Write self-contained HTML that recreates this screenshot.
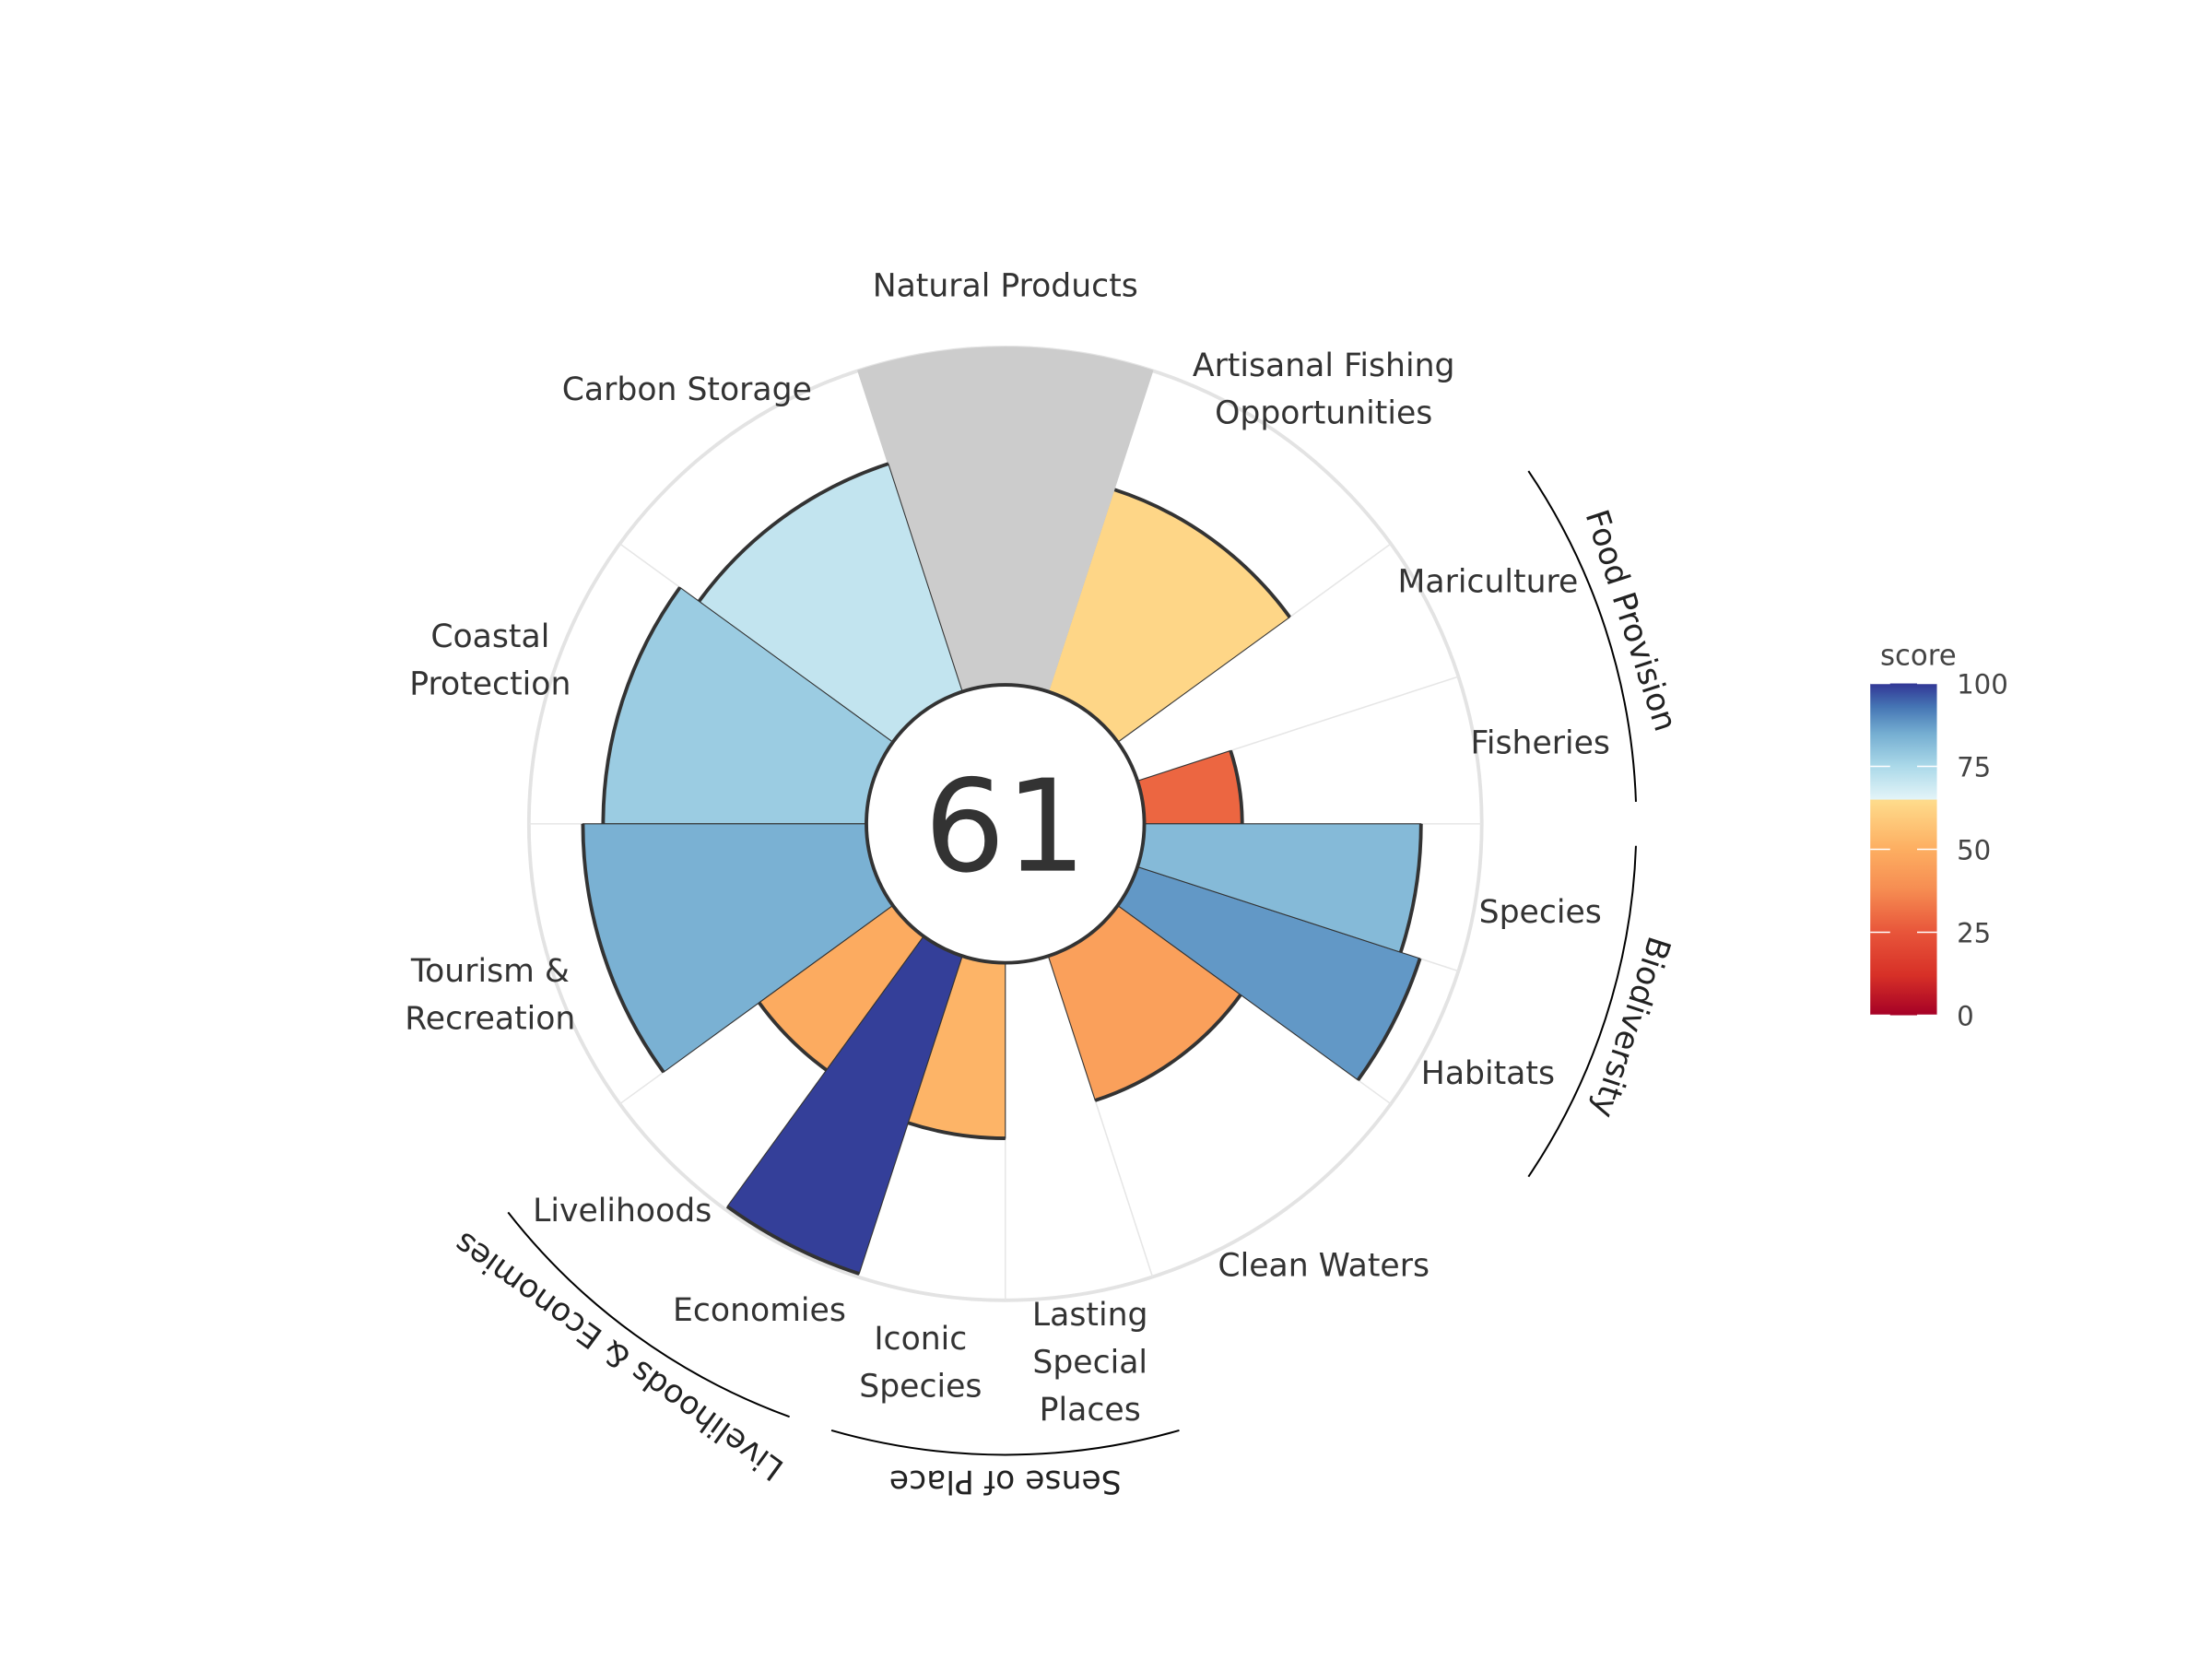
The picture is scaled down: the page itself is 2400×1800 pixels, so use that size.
<!DOCTYPE html>
<html><head><meta charset="utf-8"><style>
html,body{margin:0;padding:0;background:#fff;}
svg{display:block;font-family:"DejaVu Sans","Liberation Sans",sans-serif;}
</style></head><body>
<svg id="chart" width="2400" height="1800" viewBox="0 0 1560 1170" xmlns="http://www.w3.org/2000/svg">
<defs>
<linearGradient id="cbar" x1="0" y1="1" x2="0" y2="0">
<stop offset="0" stop-color="#a50026"/><stop offset="0.12" stop-color="#d73027"/><stop offset="0.25" stop-color="#e8553a"/><stop offset="0.38" stop-color="#f68d52"/><stop offset="0.5" stop-color="#fdae61"/><stop offset="0.649" stop-color="#fedc8c"/><stop offset="0.651" stop-color="#e3f4f8"/><stop offset="0.75" stop-color="#abd9e9"/><stop offset="0.85" stop-color="#74add1"/><stop offset="0.93" stop-color="#4575b4"/><stop offset="1" stop-color="#313695"/>
</linearGradient>
</defs>
<g id="grid"></g>
<g id="bars"></g>
<g id="labels"></g>
<g id="groups"></g>
<circle cx="709" cy="581" r="98" fill="#fff" stroke="#333" stroke-width="2.5"/>
<text x="709" y="614" font-size="90" text-anchor="middle" fill="#333">61</text>
<g>
<text x="1326" y="469" font-size="20" fill="#444">score</text>
<rect x="1319" y="482" width="47" height="234" fill="url(#cbar)"/>
<g id="cticks"></g>
</g>
</svg>
<script>
const goals=["Fisheries","Mariculture","Artisanal Fishing Opportunities","Natural Products","Carbon Storage","Coastal Protection","Tourism & Recreation","Livelihoods","Economies","Iconic Species","Lasting Special Places","Clean Waters","Habitats","Species"];
const scores=[29,0,63,null,71,78,84,49,99,52,0,45,88,82];
const weights=[0.5,0.5,1,1,1,1,1,0.5,0.5,0.5,0.5,1,0.5,0.5];
const labelLines=[["Fisheries"],["Mariculture"],["Artisanal Fishing","Opportunities"],["Natural Products"],["Carbon Storage"],["Coastal","Protection"],["Tourism &","Recreation"],["Livelihoods"],["Economies"],["Iconic","Species"],["Lasting","Special","Places"],["Clean Waters"],["Habitats"],["Species"]];
const groupNames=["Food Provision","Livelihoods & Economies","Sense of Place","Biodiversity"];
const groupMembers=[[0,1],[7,8],[9,10],[12,13]];
const legendTicks=[0,25,50,75,100];
const overall=61;

const NS="http://www.w3.org/2000/svg";
const cx=709,cy=581,r0=98,r1=336;
function rad(s){return r0+(r1-r0)*s/100;}
function pt(r,a){const t=a*Math.PI/180;return [cx+r*Math.cos(t),cy-r*Math.sin(t)];}
function mk(tag,attrs,parent){const e=document.createElementNS(NS,tag);for(const k in attrs)e.setAttribute(k,attrs[k]);parent.appendChild(e);return e;}
const stops=[[0,[165,0,38]],[12,[215,48,39]],[25,[232,85,58]],[38,[246,141,82]],[50,[253,174,97]],[64.9,[254,220,140]],[65.1,[227,244,248]],[75,[171,217,233]],[85,[116,173,209]],[93,[69,117,180]],[100,[49,54,149]]];
function color(v){for(let i=1;i<stops.length;i++){if(v<=stops[i][0]){const a=stops[i-1],b=stops[i],f=(v-a[0])/(b[0]-a[0]);return "rgb("+a[1].map((c,j)=>Math.round(c+(b[1][j]-c)*f)).join(",")+")";}}return "rgb(49,54,149)";}
const totalW=weights.reduce((a,b)=>a+b,0);
const starts=[];let acc=0;weights.forEach(w=>{starts.push(acc/totalW*360);acc+=w;});
const ends=starts.map((s,i)=>s+weights[i]/totalW*360);
const grid=document.getElementById('grid'),bars=document.getElementById('bars'),labels=document.getElementById('labels'),groups=document.getElementById('groups');
const oc=mk('circle',{cx:cx,cy:cy,r:r1,fill:'none',stroke:'#e3e3e3','stroke-width':2.5},grid);


starts.forEach(a=>{const p=pt(r0,a),q=pt(r1,a);const l=mk('line',{x1:p[0],y1:p[1],x2:q[0],y2:q[1],stroke:'#e6e6e6','stroke-width':1},grid);

});
goals.forEach((g,i)=>{
 const a1=starts[i],a2=ends[i];const na=scores[i]===null;
 const r=na?r1:rad(scores[i]);
 const p1=pt(r,a1),p2=pt(r,a2);
 const d=`M${cx},${cy}L${p1[0]},${p1[1]}A${r},${r} 0 0 0 ${p2[0]},${p2[1]}Z`;
 const s=mk('path',{d:d,fill:na?'#cccccc':color(scores[i]),stroke:na?'#cccccc':'#333','stroke-width':na?1:0.7},bars);
 
 
 if(!na&&scores[i]>0){const arc=mk('path',{d:`M${p1[0]},${p1[1]}A${r},${r} 0 0 0 ${p2[0]},${p2[1]}`,fill:'none',stroke:'#333','stroke-width':2.5},bars);
 
 }
 const mid=(a1+a2)/2;
 const lp=pt(382,mid);
 const n=labelLines[i].length;
 labelLines[i].forEach((ln,k)=>{const t=mk('text',{x:lp[0],y:lp[1]+(k-(n-1)/2)*33.5+10,'font-size':22.5,'text-anchor':'middle',fill:'#333'},labels);t.textContent=ln;
 
 });
});
groupNames.forEach((gn,gi)=>{
 const m=groupMembers[gi];let a1=starts[m[0]],a2=ends[m[m.length-1]];
 if(a2<a1)a2+=360;
 const R=445;const p1=pt(R,a1+2),p2=pt(R,a2-2);
 const arc=mk('path',{d:`M${p1[0]},${p1[1]}A${R},${R} 0 0 0 ${p2[0]},${p2[1]}`,fill:'none',stroke:'#000','stroke-width':1.3},groups);
 
 
 const mid=(a1+a2)/2;const tp=pt(463,mid);
 const t=mk('text',{x:tp[0],y:tp[1],'font-size':22.5,'text-anchor':'middle','dominant-baseline':'middle',fill:'#222',transform:`rotate(${90-mid} ${tp[0]} ${tp[1]})`},groups);
 t.textContent=gn;
 
 
});
const ct=document.getElementById('cticks');
legendTicks.forEach(v=>{const y=716-234*v/100;
 const a=mk('line',{x1:1319,y1:y,x2:1333,y2:y,stroke:'#fff','stroke-width':1},ct);
 
 
 const b=mk('line',{x1:1352,y1:y,x2:1366,y2:y,stroke:'#fff','stroke-width':1},ct);
 
 
 const t=mk('text',{x:1380,y:y+7,'font-size':19,fill:'#444'},ct);t.textContent=v;
 
 
});
</script>
</body></html>
